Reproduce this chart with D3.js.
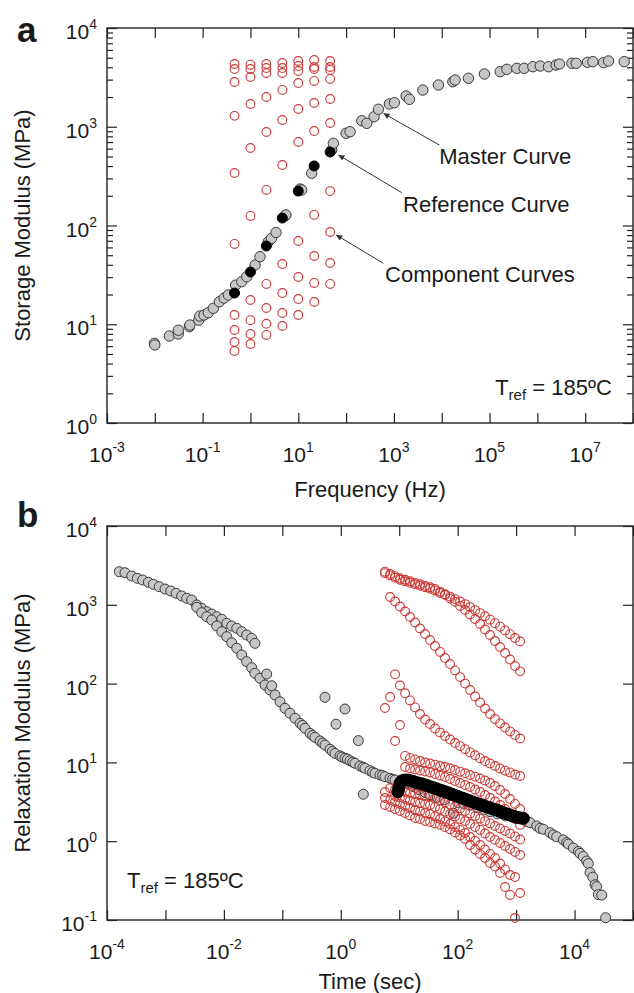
<!DOCTYPE html>
<html><head><meta charset="utf-8">
<script src="https://cdn.jsdelivr.net/npm/d3@7"></script>
<style>
body{margin:0;background:#fff;}
svg text{font-family:"Liberation Sans",Arial,Helvetica,sans-serif;fill:#1a1a1a;white-space:pre;}
</style></head><body>
<svg id="chart" width="634" height="993"></svg>
<script>
// ---------------- Panel a data (Storage modulus, MPa vs Frequency, Hz) ----------------
const freqA = [0.464, 1, 2.15, 4.64, 10, 21.5, 46.4];
const compA = [
  [4320, 4250, 4320, 4420, 4630, 4740, 4630],
  [3840, 3840, 3930, 3930, 4120, 4030, 4030],
  [2840, 3190, 3500, 3500, 3670, 3840, 3760],
  [1290, 1700, 2000, 2360, 2770, 2910, 3050],
  [340, 609, 885, 1170, 1513, 1740, 1910],
  [65, 125, 229, 410, 701, 905, 1091],
  [12.4, 17.6, 25.6, 40.7, 69.7, 128, 223],
  [8.75, 11.0, 14.6, 20.7, 30.1, 49.1, 85.9],
  [6.61, 7.97, 10.1, 13.0, 18.0, 26.2, 41.7],
  [5.36, 6.31, 7.79, 9.6, 12.4, 16.8, 25.6]
];
const refA = [20.7, 33.8, 62, 119, 223, 401, 555];
const masterA = [
  [0.0098,6.41],[0.0100,6.17],[0.0201,7.6],[0.0309,7.97],[0.031,8.7],[0.0527,9.44],[0.0541,9.82],
  [0.083,11.0],[0.087,12.1],[0.107,12.4],[0.1316,13.1],[0.1675,14.5],[0.224,16.9],[0.2807,18.4],
  [0.345,19.8],[0.49,24.9],[0.658,27.0],[0.837,30.3],[1.25,39.8],[1.585,48.3],[2.366,68.5],
  [2.75,74],[3.43,84.9],[5.29,125],[5.5,128],[10.9,234],[11.8,229],[19.1,338],[50,582],[54.2,679],
  [100,859],[121,891],[213,1151],[271,1084],[385,1264],[474,1503],[805,1700],[1024,1753],
  [1800,2048],[2110,1896],[4025,2355],[8530,2647],[17060,2858],[19050,2973],[36200,3096],
  [78200,3422],[1.67e5,3610],[2.30e5,3816],[3.72e5,3906],[5.30e5,3906],[8.05e5,4055],
  [1.15e6,4121],[1.71e6,4055],[2.47e6,4220],[2.90e6,4318],[5.27e6,4395],[6.49e6,4395],
  [1.12e7,4497],[1.45e7,4560],[2.42e7,4456],[3.08e7,4634],[6.55e7,4560]
];

// ---------------- Panel b data (Relaxation modulus, MPa vs Time, sec) ----------------
const timeB = [5.7,7.0,8.5,10.3,12.6,15.3,18.7,22.7,27.7,33.7,41.0,50.0,60.8,74.1,90.2,110,134,163,199,242,294,358,436,532,647,788,960,1170];
const compB = [
  [2630,2460,2310,2170,2080,1990,1900,1820,1740,1670,1590,1470,1360,1270,1180,1100,1020,935,857,785,716,647,584,527,473,424,379,342],
  [2520,2360,2210,2080,1990,1900,1820,1740,1670,1600,1520,1410,1330,1200,1090,967,859,753,660,571,486,414,347,291,244,202,167,143],
  [null,1256,1102,951,822,700,596,500,426,357,300,252,211,177,147,121,100,83,68.6,57.5,48.3,41.1,35.5,31.2,27.7,24.7,22.3,20.1],
  [null,null,131,94.6,75.3,61.1,49.8,41.1,35.0,30.7,26.9,23.9,21.6,19.5,17.6,16.1,14.7,13.4,12.3,11.3,10.4,9.69,9.0,8.37,7.85,7.45,7.02,6.72],
  [null,null,null,29.8,12.1,11.4,10.9,10.4,9.97,9.68,9.35,9.0,8.74,8.42,8.01,7.62,7.27,6.92,6.59,6.25,5.89,5.48,5.02,4.46,3.97,3.43,2.97,2.56],
  [null,null,18.7,null,8.74,8.37,8.13,7.89,7.67,7.45,7.12,6.82,6.53,6.15,5.81,5.48,5.17,4.87,4.53,4.21,3.86,3.53,3.19,2.88,2.56,2.25,1.91,1.61],
  [49.0,4.73,4.53,4.34,4.21,4.09,3.97,3.86,3.75,3.67,3.48,3.28,3.10,2.92,2.76,2.60,2.42,2.25,2.09,1.94,1.80,1.68,1.56,1.45,1.35,1.25,1.15,1.05],
  [4.21,67.6,3.75,3.59,3.43,3.28,3.14,3.05,2.97,2.88,2.72,2.56,2.38,2.21,2.06,1.91,1.80,1.65,1.51,1.39,1.25,1.13,1.04,0.949,0.869,0.796,0.730,0.668],
  [3.53,3.33,3.14,2.97,2.80,2.64,2.49,2.38,2.28,2.21,2.06,1.91,1.78,1.65,1.51,1.39,1.27,1.13,1.01,0.895,0.785,0.689,0.612,0.521,0.438,0.372,0.351,0.220],
  [2.88,2.72,2.56,2.42,2.28,2.12,1.97,1.91,1.80,1.75,1.68,1.61,1.51,1.41,1.29,1.18,1.07,0.895,0.785,0.689,0.612,0.529,0.477,0.395,0.262,0.208,0.106,null]
];
const refB = [
  [9.5,4.25],[9.8,4.7],[10.3,5.43],[11,5.8],[12,5.95],[13.4,5.98],[15,5.9],[17,5.75],[19,5.6],[21,5.48],
  [24,5.35],[27,5.22],[30,5.08],[33.7,4.92],[38,4.78],[43,4.64],[48,4.5],[54,4.37],[61,4.24],[68,4.12],
  [77,3.98],[86,3.86],[97,3.74],[110,3.6],[125,3.5],[140,3.38],[158,3.27],[178,3.16],[200,3.06],[225,2.97],
  [253,2.88],[285,2.8],[320,2.72],[360,2.64],[405,2.56],[466,2.49],[520,2.4],[590,2.32],[660,2.25],[745,2.18],
  [840,2.11],[945,2.05],[1060,2.0],[1190,1.97],[1330,1.95]
];
const masterB = [
  [1.62e-4,2630],[2.03e-4,2555],[2.65e-4,2320],[3.30e-4,2170],[4.08e-4,2064],[5.09e-4,1930],[6.20e-4,1820],
  [7.85e-4,1698],[9.83e-4,1585],[1.23e-3,1496],[1.52e-3,1400],[1.90e-3,1294],[2.31e-3,1209],[2.81e-3,1151],
  [3.43e-3,995],[4.17e-3,903],[5.08e-3,818],[6.19e-3,764],[7.54e-3,706],[9.19e-3,655],[0.0112,582],
  [0.0136,538],[0.0166,504],[0.0202,456],[0.0245,414],[0.0299,376],[0.0340,324],
  [3.43e-3,929],[4.17e-3,794],[5.08e-3,706],[6.19e-3,641],[7.54e-3,538],[9.19e-3,456],[0.0112,394],
  [0.0136,330],[0.0166,281],[0.0202,231],[0.0245,190],[0.0299,159],[0.0340,135],[0.0415,117],[0.0506,96],
  [0.054,132],[0.0615,83],[0.0658,94],[0.0750,71.7],[0.0912,58.9],[0.111,48.6],[0.135,42.0],[0.165,36.3],
  [0.201,31.3],[0.22,29.5],[0.244,27.1],[0.298,23.4],[0.33,22],[0.362,20.8],[0.442,18.7],[0.49,17.6],
  [0.537,16.6],[0.655,14.7],[0.72,13.8],[0.796,13.0],[0.970,12.1],[1.05,11.7],[1.18,11.3],[1.3,11.0],
  [1.44,10.5],[1.6,10.1],[1.75,9.75],[2.13,9.0],[2.4,8.7],[2.60,8.42],[3.16,7.85],[3.5,7.5],[3.85,7.27],
  [4.69,6.92],[5.2,6.8],[5.71,6.59],[6.96,6.29],[7.7,6.1],[8.47,5.98],
  [0.537,67.0],[1.18,47.6],[0.828,30.5],[2.0,18.9],[2.43,3.94],
  [10.5,5.7],[13,5.4],[17.4,4.92],[22,4.5],[28,4.15],[33.7,3.9],[45,3.6],[60,3.35],[84.3,2.26],[100,3.1],
  [130,2.95],[163,2.85],[220,2.65],[290,2.5],[358,2.37],[480,2.22],[650,2.1],[900,2.0],[1100,1.97],
  [1330,1.95],[1520,1.77],[1730,1.72],[2250,1.56],[2570,1.46],[2920,1.42],[3810,1.28],[4340,1.2],
  [4950,1.14],[6430,1.04],[7350,0.96],[7830,0.92],[9530,0.82],[11600,0.74],[12400,0.70],[14100,0.64],
  [16100,0.56],[17200,0.52],[18400,0.40],[20500,0.35],[22400,0.28],[23900,0.265],[25500,0.21],
  [29200,0.207],[34000,0.107]
];

// ---------------- Tick label exponents ----------------
const xLabelExpA = [-3,-1,1,3,5,7];
const yLabelExpA = [0,1,2,3,4];
const xLabelExpB = [-4,-2,0,2,4];
const yLabelExpB = [-1,0,1,2,3,4];

// ---------------- Drawing ----------------
const svg = d3.select("#chart");
const defs = svg.append("defs");
defs.append("marker").attr("id","arr").attr("viewBox","0 0 10 10")
  .attr("refX",10).attr("refY",5).attr("markerWidth",8).attr("markerHeight",6)
  .attr("markerUnits","userSpaceOnUse").attr("orient","auto")
  .append("path").attr("d","M0,0 L10,5 L0,10 z").attr("fill","#333");

const RED = "#c93a36", GRAYF = "#c6c6c6", GRAYS = "#3a3a3a";

function frame(x, y, xMaj, yMaj, yMin) {
  const [l, r] = x.range(), [b, t] = y.range();
  const g = svg.append("g");
  const ax = (axis, tr) => {
    const a = g.append("g").attr("transform", tr).call(axis);
    a.select(".domain").remove();
    a.selectAll("line").attr("stroke","#222").attr("stroke-width",1.2);
  };
  ax(d3.axisBottom(x).tickValues(xMaj).tickSize(-10).tickSizeOuter(0).tickFormat(""), `translate(0,${b})`);
  ax(d3.axisTop(x).tickValues(xMaj).tickSize(-10).tickSizeOuter(0).tickFormat(""), `translate(0,${t})`);
  ax(d3.axisLeft(y).tickValues(yMaj).tickSize(-10).tickSizeOuter(0).tickFormat(""), `translate(${l},0)`);
  ax(d3.axisRight(y).tickValues(yMaj).tickSize(-10).tickSizeOuter(0).tickFormat(""), `translate(${r},0)`);
  if (yMin) {
    ax(d3.axisLeft(y).tickValues(yMin).tickSize(-6).tickSizeOuter(0).tickFormat(""), `translate(${l},0)`);
    ax(d3.axisRight(y).tickValues(yMin).tickSize(-6).tickSizeOuter(0).tickFormat(""), `translate(${r},0)`);
  }
  g.append("rect").attr("x",l).attr("y",t).attr("width",r-l).attr("height",b-t)
    .attr("fill","none").attr("stroke","#222").attr("stroke-width",1.4);
}

function powLabel(px, py, e, anchor) {
  const t = svg.append("text").attr("x",px).attr("y",py).attr("text-anchor",anchor).attr("font-size",21);
  t.append("tspan").text("10");
  t.append("tspan").attr("dy",-10).attr("font-size",14).text(String(e));
}

function labels(x, y, xe, ye) {
  const b = y.range()[0];
  xe.forEach(e => powLabel(x(10**e), b+39, e, "middle"));
  ye.forEach(e => powLabel(97, y(10**e)+11, e, "end"));
}

function tref(px, py) {
  const t = svg.append("text").attr("x",px).attr("y",py).attr("font-size",22);
  t.append("tspan").text("T");
  t.append("tspan").attr("font-size",15).attr("dy",5).text("ref");
  t.append("tspan").attr("dy",-5).text(" = 185ºC");
}

function arrow(x, y, from, to) {
  svg.append("line").attr("x1",x(from[0])).attr("y1",y(from[1]))
    .attr("x2",x(to[0])).attr("y2",y(to[1]))
    .attr("stroke","#333").attr("stroke-width",1).attr("marker-end","url(#arr)");
}

// ===== Panel a =====
const xA = d3.scaleLog().domain([1e-3,1e8]).range([107,633]);
const yA = d3.scaleLog().domain([1,1e4]).range([423,28]);
const decA = d3.range(-3,9).map(e=>10**e);
const yMajA = d3.range(0,5).map(e=>10**e);
const yMinA = [];
d3.range(0,4).forEach(e=>d3.range(2,10).forEach(m=>yMinA.push(m*10**e)));
frame(xA, yA, decA, yMajA, yMinA);

const gA = svg.append("g");
gA.selectAll("circle.m").data(masterA).join("circle")
  .attr("cx",d=>xA(d[0])).attr("cy",d=>yA(d[1])).attr("r",5.2)
  .attr("fill",GRAYF).attr("stroke",GRAYS).attr("stroke-width",1);
compA.forEach(row => {
  gA.append("g").selectAll("circle").data(row.map((v,i)=>[freqA[i],v])).join("circle")
    .attr("cx",d=>xA(d[0])).attr("cy",d=>yA(d[1])).attr("r",4.4)
    .attr("fill","none").attr("stroke",RED).attr("stroke-width",1.1);
});
gA.append("g").selectAll("circle").data(refA.map((v,i)=>[freqA[i],v])).join("circle")
  .attr("cx",d=>xA(d[0])).attr("cy",d=>yA(d[1])).attr("r",5)
  .attr("fill","#000").attr("stroke","#000");

labels(xA, yA, xLabelExpA, yLabelExpA);
svg.append("text").attr("transform","translate(30,225.5) rotate(-90)").attr("text-anchor","middle")
  .attr("font-size",22).text("Storage Modulus (MPa)");
svg.append("text").attr("x",370).attr("y",497).attr("text-anchor","middle").attr("font-size",22).text("Frequency (Hz)");
svg.append("text").attr("x",17).attr("y",42).attr("font-size",35).attr("font-weight","bold").text("a");

arrow(xA, yA, [8950,653], [603,1368]);
arrow(xA, yA, [1462,215], [69,518]);
arrow(xA, yA, [603,41.4], [61.8,80.2]);
svg.append("text").attr("x",xA(8830)).attr("y",yA(417)).attr("font-size",22).text("Master Curve");
svg.append("text").attr("x",xA(1556)).attr("y",yA(138)).attr("font-size",22).text("Reference Curve");
svg.append("text").attr("x",xA(655)).attr("y",yA(26.5)).attr("font-size",22).text("Component Curves");
tref(xA(1.31e5), yA(1.92));

// ===== Panel b =====
const xB = d3.scaleLog().domain([1e-4,1e5]).range([107,633]);
const yB = d3.scaleLog().domain([0.1,1e4]).range([920,526]);
const decB = d3.range(-4,6).map(e=>10**e);
const yMajB = d3.range(-1,5).map(e=>10**e);
frame(xB, yB, decB, yMajB, null);

const gB = svg.append("g");
gB.selectAll("circle.m").data(masterB).join("circle")
  .attr("cx",d=>xB(d[0])).attr("cy",d=>yB(d[1])).attr("r",5)
  .attr("fill",GRAYF).attr("stroke",GRAYS).attr("stroke-width",1);
compB.forEach(row => {
  const pts = row.map((v,i)=>[timeB[i],v]).filter(d=>d[1]!=null);
  gB.append("g").selectAll("circle").data(pts).join("circle")
    .attr("cx",d=>xB(d[0])).attr("cy",d=>yB(d[1])).attr("r",4.4)
    .attr("fill","none").attr("stroke",RED).attr("stroke-width",1.1);
});
gB.append("g").selectAll("circle").data(refB).join("circle")
  .attr("cx",d=>xB(d[0])).attr("cy",d=>yB(d[1])).attr("r",6)
  .attr("fill","#000").attr("stroke","#000");

labels(xB, yB, xLabelExpB, yLabelExpB);
svg.append("text").attr("transform","translate(30,723) rotate(-90)").attr("text-anchor","middle")
  .attr("font-size",22).text("Relaxation Modulus (MPa)");
svg.append("text").attr("x",370).attr("y",989).attr("text-anchor","middle").attr("font-size",22).text("Time (sec)");
svg.append("text").attr("x",17).attr("y",527).attr("font-size",35).attr("font-weight","bold").text("b");
tref(xB(2.2e-4), yB(0.255));
</script>
</body></html>
